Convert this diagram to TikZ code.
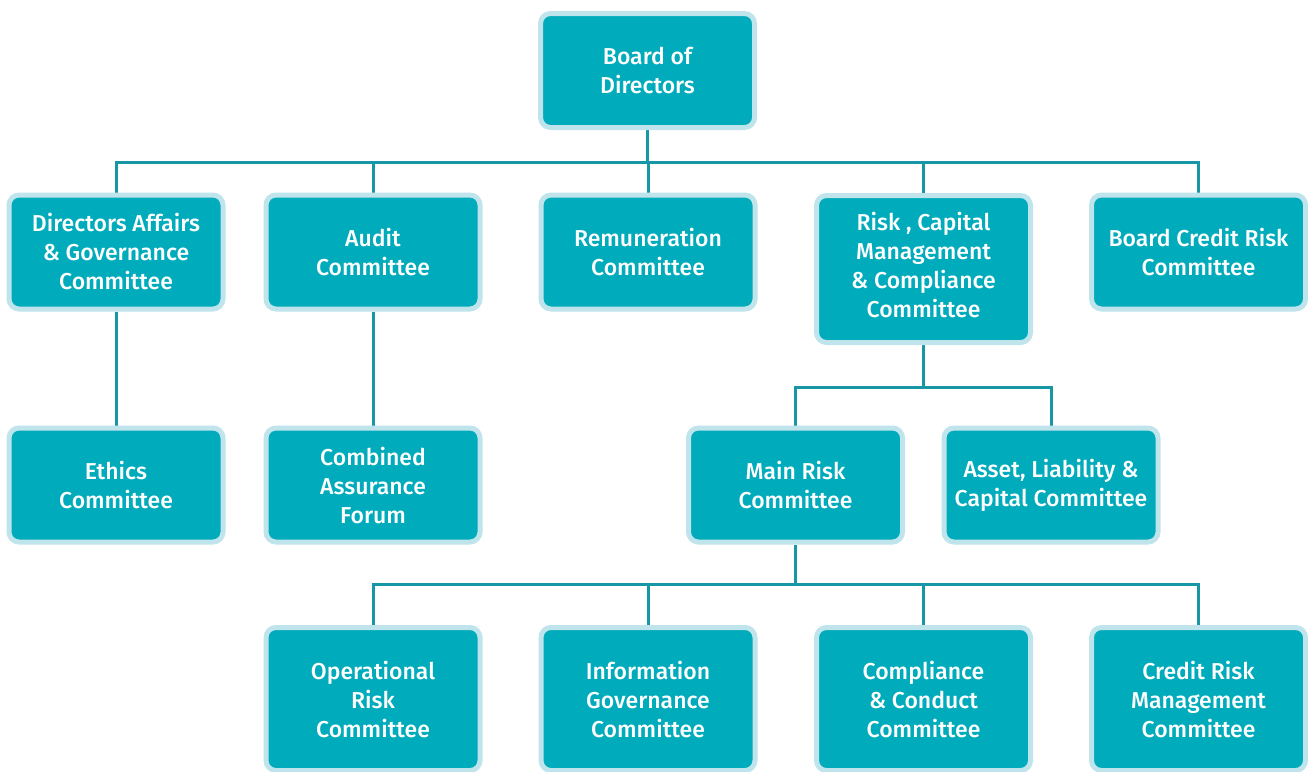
\documentclass[tikz,border=0pt]{standalone}
\usepackage{fontspec}
\setmainfont{Fira Sans}[UprightFont=* Medium]
\usetikzlibrary{backgrounds}
\definecolor{boxfill}{HTML}{00ABBB}
\definecolor{boxedge}{HTML}{BFE4EB}
\definecolor{conncol}{HTML}{1797A6}
\tikzset{
  orgbox/.style={rectangle, rounded corners=10pt, fill=boxfill, draw=boxedge, line width=5pt,
    text=white, align=center, minimum width=214pt, minimum height=114pt, inner sep=0pt,
    font=\fontsize{23}{29}\selectfont},
  conn/.style={draw=conncol, line width=3pt}
}
\begin{document}
\begin{tikzpicture}[x=1pt,y=-1pt]
\useasboundingbox (0,0) rectangle (1308,771);
\node[orgbox] (board) at (647.5,70.5) {Board of\\Directors};
\node[orgbox] (dag) at (116,252) {Directors Affairs\\\& Governance\\Committee};
\node[orgbox] (audit) at (373,252) {Audit\\Committee};
\node[orgbox] (rem) at (648,252) {Remuneration\\Committee};
\node[orgbox, minimum height=147pt] (rcm) at (923.5,269) {Risk , Capital\\Management\\\& Compliance\\Committee\\[-20pt]\mbox{}};
\node[orgbox] (bcr) at (1198.5,252) {Board Credit Risk\\Committee};
\node[orgbox] (eth) at (116,485) {Ethics\\Committee};
\node[orgbox] (caf) at (373,485) {Combined\\Assurance\\Forum};
\node[orgbox] (mrc) at (795.5,485) {Main Risk\\Committee};
\node[orgbox] (alc) at (1051,485) {Asset, Liability \&\\Capital Committee};
\node[orgbox, minimum height=143pt] (orc) at (373,699) {Operational\\Risk\\Committee};
\node[orgbox, minimum height=143pt] (igc) at (648,699) {Information\\Governance\\Committee};
\node[orgbox, minimum height=143pt] (ccc) at (923.5,699) {Compliance\\\& Conduct\\Committee};
\node[orgbox, minimum height=143pt] (crm) at (1198.5,699) {Credit Risk\\Management\\Committee};
\coordinate (bus1) at (0,162);
\coordinate (bus2) at (0,387);
\coordinate (bus3) at (0,584);
\begin{scope}[on background layer]
\draw[conn] (board.south) -- (board.south|-bus1);
\draw[conn] (dag.north) -- (dag.north|-bus1) -- (bcr.north|-bus1) -- (bcr.north);
\draw[conn] (audit.north) -- (audit.north|-bus1);
\draw[conn] (rem.north) -- (rem.north|-bus1);
\draw[conn] (rcm.north) -- (rcm.north|-bus1);
\draw[conn] (dag.south) -- (eth.north);
\draw[conn] (audit.south) -- (caf.north);
\draw[conn] (rcm.south) -- (rcm.south|-bus2);
\draw[conn] (mrc.north) -- (mrc.north|-bus2) -- (alc.north|-bus2) -- (alc.north);
\draw[conn] (mrc.south) -- (mrc.south|-bus3);
\draw[conn] (orc.north) -- (orc.north|-bus3) -- (crm.north|-bus3) -- (crm.north);
\draw[conn] (igc.north) -- (igc.north|-bus3);
\draw[conn] (ccc.north) -- (ccc.north|-bus3);
\end{scope}
\end{tikzpicture}
\end{document}
